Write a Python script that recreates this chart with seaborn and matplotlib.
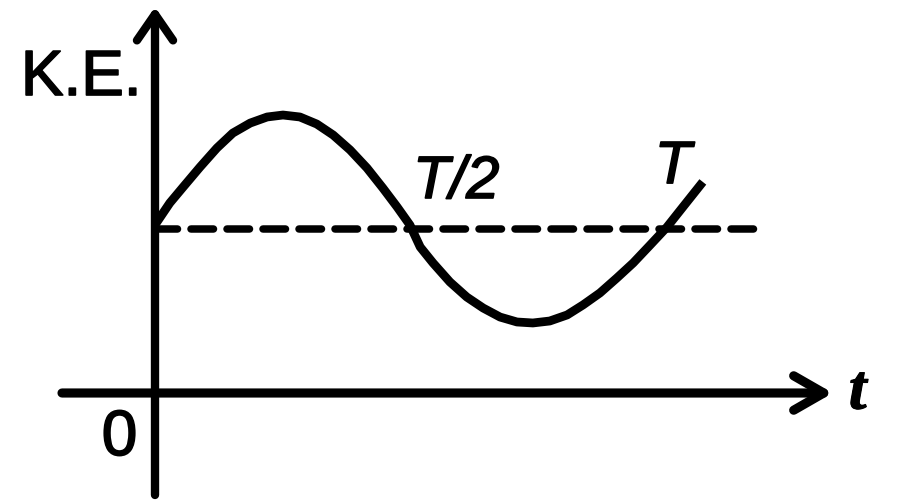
import matplotlib
matplotlib.use("Agg")
import matplotlib.pyplot as plt
import matplotlib.patheffects as pe
import seaborn as sns
import pandas as pd

# ---- data (t in units of T, K.E. in units of its mean) ----
t_values = [0.0, 0.029, 0.055, 0.088, 0.121, 0.152, 0.186, 0.219, 0.25, 0.283,
            0.316, 0.348, 0.381, 0.414, 0.445, 0.473, 0.498, 0.518, 0.543, 0.576,
            0.609, 0.641, 0.674, 0.707, 0.738, 0.771, 0.805, 0.836, 0.869, 0.902,
            0.934, 0.967, 1.0, 1.031, 1.070]
ke_values = [1.025, 1.159, 1.256, 1.378, 1.494, 1.585, 1.646, 1.683, 1.695, 1.683,
             1.640, 1.573, 1.482, 1.372, 1.250, 1.134, 1.024, 0.890, 0.793, 0.677,
             0.585, 0.518, 0.463, 0.433, 0.427, 0.439, 0.476, 0.537, 0.610, 0.701,
             0.793, 0.902, 1.012, 1.134, 1.287]
mean_t = [0.0, 1.19]
mean_ke = [1.0, 1.0]
tick_labels = ["T/2", "T"]
tick_positions = [0.5, 1.0]

curve = pd.DataFrame({"t": t_values, "KE": ke_values})
mean_df = pd.DataFrame({"t": mean_t, "KE": mean_ke})

sns.set_theme(style="white")
plt.rcParams["font.family"] = ["Liberation Sans", "DejaVu Sans"]

fig = plt.figure(figsize=(9, 5.01), dpi=100)
ax = fig.add_axes([0, 0, 1, 1])
ax.set_xlim(-155 / 512, 745 / 512)
ax.set_ylim((393 - 501) / 164, 393 / 164)
ax.axis("off")

# dashed mean level
sns.lineplot(data=mean_df, x="t", y="KE", ax=ax, color="black", lw=5.4,
             estimator=None, sort=False)
ax.lines[-1].set_dashes([3.0, 1.8])
ax.lines[-1].set_dash_capstyle("round")

# K.E. curve
sns.lineplot(data=curve, x="t", y="KE", ax=ax, color="black", lw=6.3,
             estimator=None, sort=False)
ax.lines[-1].set_solid_capstyle("butt")
ax.lines[-1].set_solid_joinstyle("round")

# axes arrows
ax.annotate("", xy=(0, 2.354), xytext=(0, (393 - 495) / 164),
            arrowprops=dict(arrowstyle="->,head_length=0.94,head_width=0.65",
                            lw=6.0, color="black", shrinkA=0, shrinkB=0,
                            mutation_scale=20))
ax.annotate("", xy=(1.324, 0), xytext=((62 - 155) / 512, 0),
            arrowprops=dict(arrowstyle="->,head_length=1.08,head_width=0.62",
                            lw=6.6, color="black", shrinkA=0, shrinkB=0,
                            mutation_scale=20))

# labels
thick = [pe.withStroke(linewidth=1.2, foreground="black")]
ax.text(-0.262, 1.817, "K.E.", fontsize=46, family="Liberation Sans",
        ha="left", va="baseline", color="black", path_effects=thick)
ax.text(-0.104, -0.378, "0", fontsize=46, family="Liberation Sans",
        ha="left", va="baseline", color="black", path_effects=thick)
ax.text(1.355, -0.095, "t", fontsize=46, family="Liberation Serif",
        style="italic", weight="bold", ha="left", va="baseline", color="black",
        path_effects=[pe.withStroke(linewidth=0.8, foreground="black")])
label_offsets = [(0.004, 1.189), (-0.024, 1.28)]
for lab, pos, (dx, y) in zip(tick_labels, tick_positions, label_offsets):
    ax.text(pos + dx, y, lab, fontsize=43, family="Liberation Sans",
            style="italic", ha="left", va="baseline", color="black",
            path_effects=thick)

fig.savefig("out.png", dpi=100, facecolor="white")
